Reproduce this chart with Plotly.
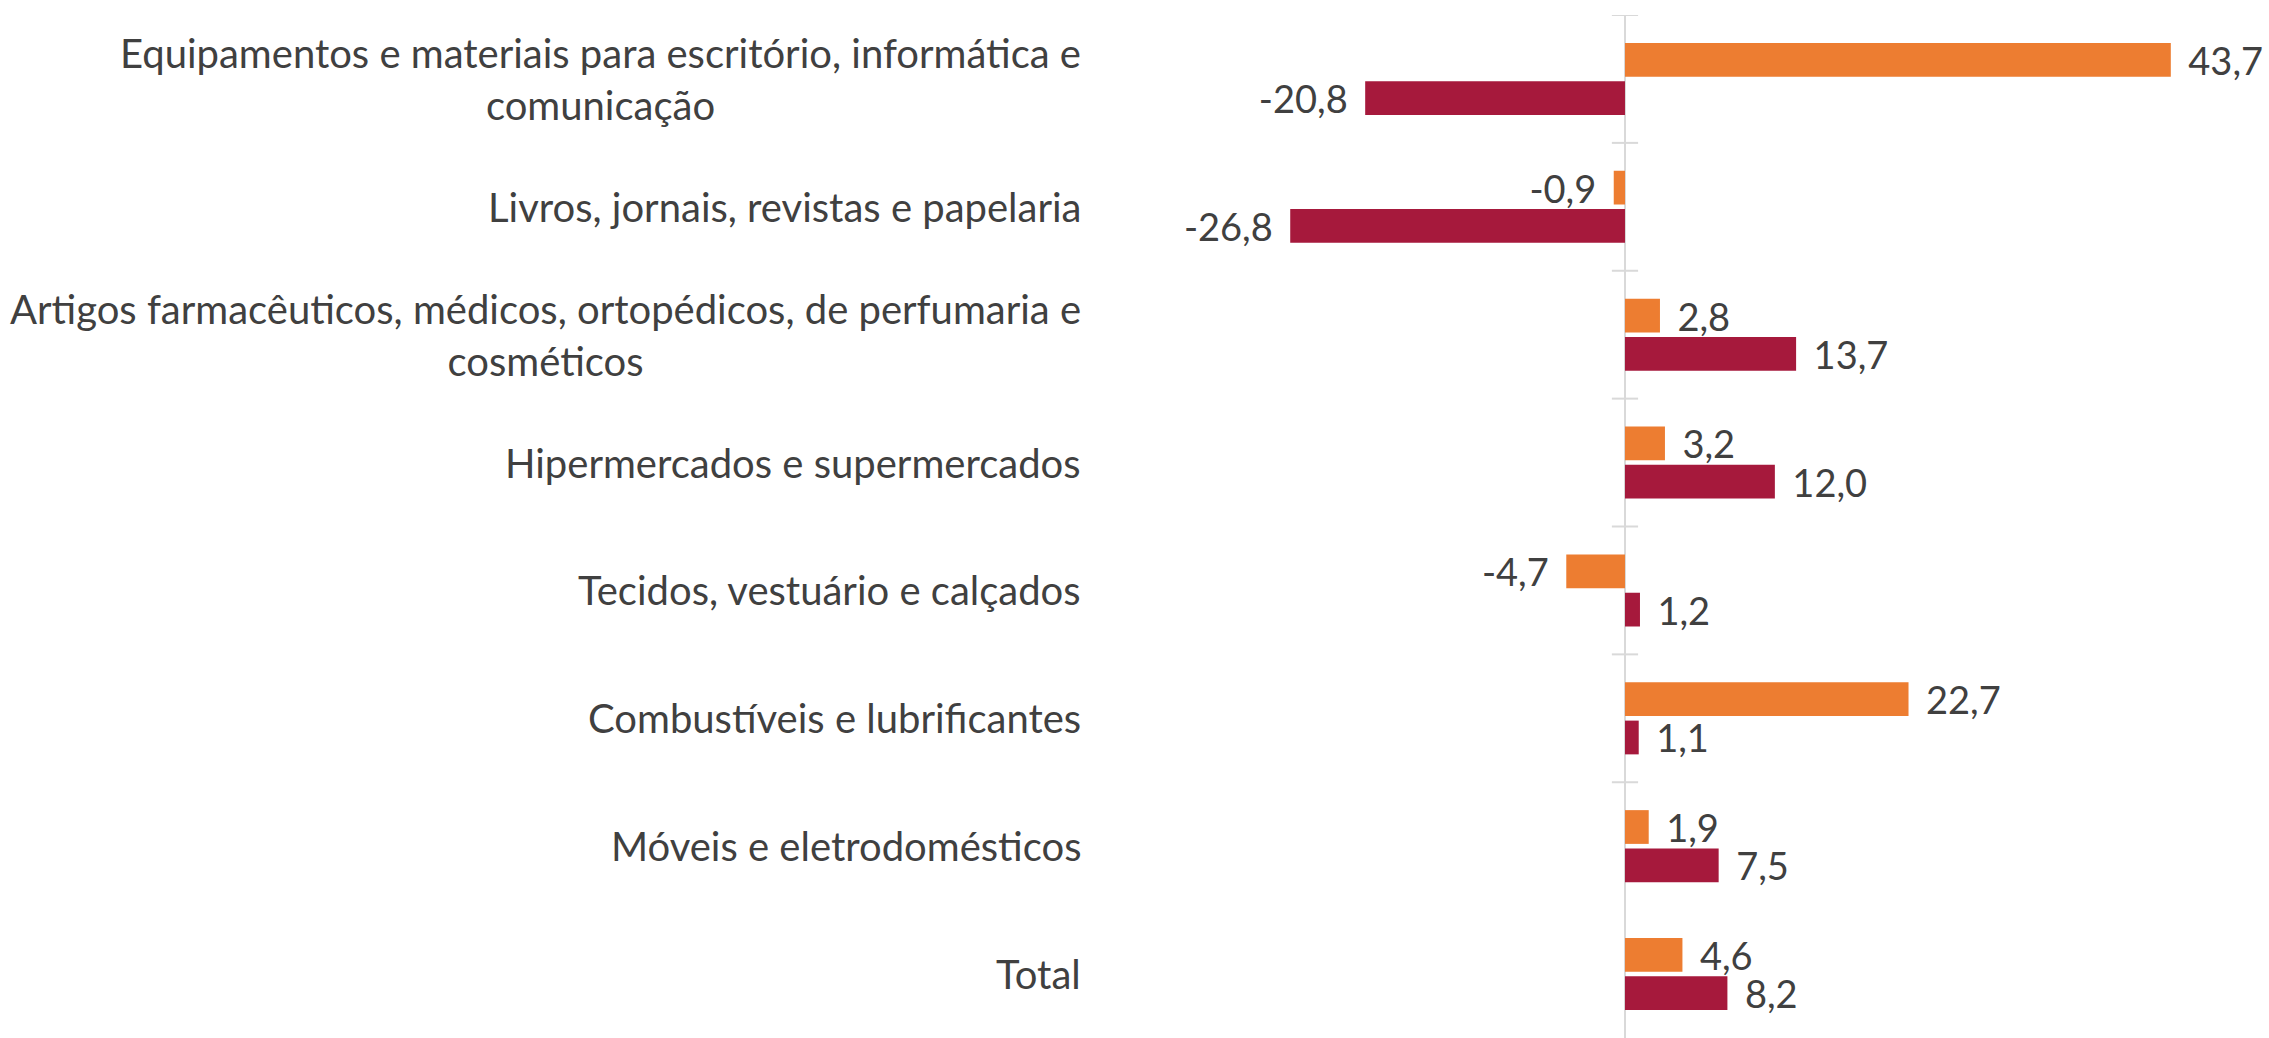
import plotly.graph_objects as go

categories = [
    "Equipamentos e materiais para escritório, informática e<br>comunicação",
    "Livros, jornais, revistas e papelaria",
    "Artigos farmacêuticos, médicos, ortopédicos, de perfumaria e<br>cosméticos",
    "Hipermercados e supermercados",
    "Tecidos, vestuário e calçados",
    "Combustíveis e lubrificantes",
    "Móveis e eletrodomésticos",
    "Total",
]
series_orange = [43.7, -0.9, 2.8, 3.2, -4.7, 22.7, 1.9, 4.6]
series_red = [-20.8, -26.8, 13.7, 12.0, 1.2, 1.1, 7.5, 8.2]

FONT = "Lato"
FS_CAT = 40
FS_VAL = 38
TXT = "#404040"
PAD = "\u00a0\u2009"


def label(v):
    s = f"{v:.1f}".replace(".", ",")
    return PAD + s if v >= 0 else s + PAD


fig = go.Figure()
for vals, col in [(series_orange, "#ED7D31"), (series_red, "#A6193C")]:
    fig.add_trace(go.Bar(
        y=list(range(len(categories))), x=vals, orientation="h",
        marker=dict(color=col, line=dict(width=0)),
        text=[label(v) for v in vals], textposition="outside",
        constraintext="none", cliponaxis=False,
        textfont=dict(family=FONT, size=FS_VAL, color=TXT),
        showlegend=False, hoverinfo="skip",
    ))

shapes = []
for i in range(len(categories) - 1):
    shapes.append(dict(type="line", xref="x", yref="y", x0=-1.05, x1=1.05,
                       y0=i - 0.5, y1=i - 0.5, line=dict(color="#d9d9d9", width=2)))

annotations = []
for i, c in enumerate(categories):
    annotations.append(dict(xref="paper", yref="y", x=0, y=i, xanchor="right",
                            yanchor="middle", xshift=-17, align="center", text=c,
                            showarrow=False, font=dict(family=FONT, size=FS_CAT, color=TXT)))

fig.update_layout(
    width=2269, height=1038,
    margin=dict(l=1100, r=0, t=15, b=0),
    paper_bgcolor="white", plot_bgcolor="white",
    barmode="group", bargap=0.4, bargroupgap=0.12,
    separators=",.",
    shapes=shapes, annotations=annotations,
    xaxis=dict(range=[-42.03, 51.56], showticklabels=False, showgrid=False,
               zeroline=True, zerolinecolor="#d9d9d9", zerolinewidth=2, ticks=""),
    yaxis=dict(range=[7.5, -0.5], showticklabels=False, showgrid=False,
               zeroline=False, ticks="", showline=False),
    font=dict(family=FONT, size=FS_CAT, color=TXT),
)
fig.write_html("out.html", config={"displayModeBar": False},
               post_script="document.body.style.margin='0';document.body.style.overflow='hidden';")
